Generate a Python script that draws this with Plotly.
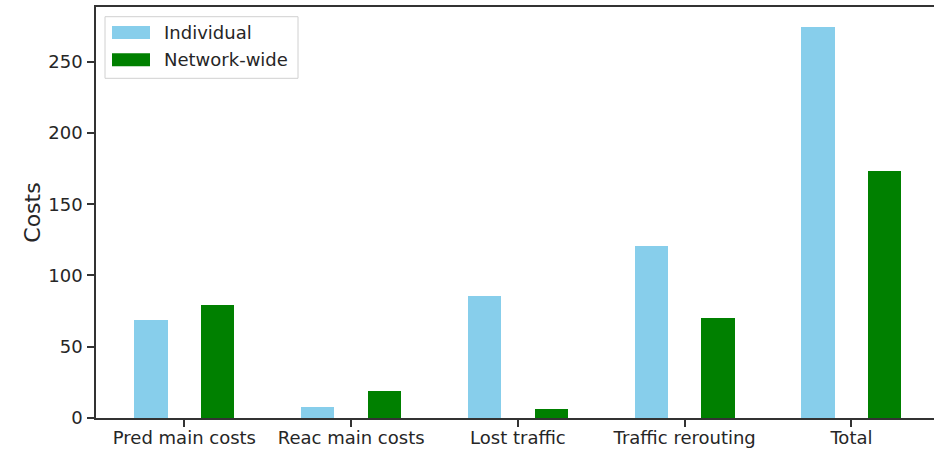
import plotly.graph_objects as go

categories = ["Pred main costs", "Reac main costs", "Lost traffic", "Traffic rerouting", "Total"]
individual = [68.8, 7.5, 85.4, 120.5, 274.6]
network_wide = [79.1, 18.7, 6.5, 70.4, 173.5]
series_names = ["Individual", "Network-wide"]
colors = ["skyblue", "green"]

W, H = 934, 449
ml, mr, mt, mb = 96, 0, 7, 31
pw, ph = W - ml - mr, H - mt - mb

def px_x(x):
    return (x - ml) / pw

def px_y(y):
    return 1 - (y - mt) / ph

idx = list(range(len(categories)))
font = dict(family="DejaVu Sans", size=18, color="#262626")

fig = go.Figure()
fig.add_trace(go.Bar(x=idx, y=individual, width=0.2, offset=-0.3,
                     marker=dict(color=colors[0], line=dict(width=0)),
                     name=series_names[0], showlegend=False))
fig.add_trace(go.Bar(x=idx, y=network_wide, width=0.2, offset=0.1,
                     marker=dict(color=colors[1], line=dict(width=0)),
                     name=series_names[1], showlegend=False))

# matplotlib-like legend box
fig.add_shape(type="rect", xref="paper", yref="paper",
              x0=px_x(105), x1=px_x(298), y0=px_y(78.3), y1=px_y(16.7),
              line=dict(color="#d0d0d0", width=1), fillcolor="rgba(255,255,255,0.8)")
for i, name in enumerate(series_names):
    top = 26 + i * 27.3
    fig.add_shape(type="rect", xref="paper", yref="paper",
                  x0=px_x(112), x1=px_x(150), y0=px_y(top + 13), y1=px_y(top),
                  line=dict(width=0), fillcolor=colors[i])
    fig.add_annotation(xref="paper", yref="paper", x=px_x(162), y=px_y(top + 6.5),
                       text=name, showarrow=False, xanchor="left", yanchor="middle",
                       font=font)

fig.update_layout(
    width=W, height=H,
    margin=dict(l=ml, r=mr, t=mt, b=mb, autoexpand=False),
    plot_bgcolor="white", paper_bgcolor="white",
    font=font,
    showlegend=False,
    bargap=0,
)
fig.update_xaxes(range=[-0.53, 4.495], tickvals=idx, ticktext=categories,
                 showgrid=False, zeroline=False, showline=True, mirror=True,
                 linecolor="#333333", linewidth=1.5,
                 ticks="outside", ticklen=7, tickwidth=1.5, tickcolor="#333333",
                 ticklabelstandoff=-4, automargin=False)
fig.update_yaxes(range=[0, 288.4], tickvals=[0, 50, 100, 150, 200, 250],
                 showgrid=False, zeroline=False, showline=True,
                 linecolor="#333333", linewidth=1.5,
                 ticks="outside", ticklen=7, tickwidth=1.5, tickcolor="#333333",
                 ticklabelstandoff=1, automargin=False,
                 title=dict(text="Costs", standoff=2))

fig.write_html("out.html", config={"displayModeBar": False},
               post_script="document.body.style.margin='0';document.body.style.overflow='hidden';")
